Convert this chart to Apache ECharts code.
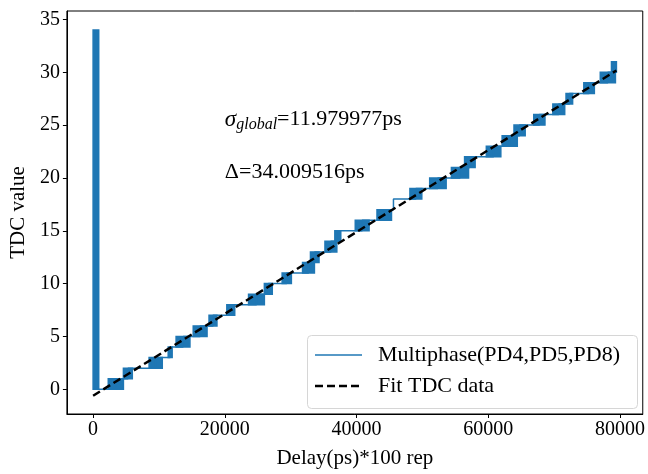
<!DOCTYPE html>
<html><head><meta charset="utf-8">
<script src="https://cdn.jsdelivr.net/npm/echarts@6/dist/echarts.min.js"></script>
<style>html,body{margin:0;padding:0;background:#fff}#c{width:648px;height:474px}</style>
</head><body><div id="c"></div>
<script>
// ---- data ----
const xTicks = [0, 20000, 40000, 60000, 80000];
const yTicks = [0, 5, 10, 15, 20, 25, 30, 35];
// thin staircase: x where each TDC level begins
const stepX = [0, 3450, 5300, 9500, 11700, 13650, 16250, 18200, 20900, 24800, 26600, 29400, 32700, 33650, 36100, 37150, 40850, 44200, 45600, 49000, 52350, 55700, 57200, 60800, 63250, 64750, 67750, 70700, 72300, 75300, 78150, 79075, 79450];
const stepY = [0, 1, 2, 3, 4, 5, 6, 7, 8, 9, 10, 11, 12, 13, 14, 15, 16, 17, 18, 19, 20, 21, 22, 23, 24, 25, 26, 27, 28, 29, 30, 31, 31];
// dense toggling regions (x from, x to, low level, high level)
const bandX0 = [0, 2300, 4600, 8500, 11400, 12600, 15200, 17600, 20300, 23600, 26000, 28700, 31800, 33000, 35200, 36700, 39800, 43100, 48100, 51100, 54400, 56400, 59700, 62100, 63900, 66900, 69800, 71800, 74500, 77000, 78700];
const bandX1 = [850, 4600, 5950, 10500, 12000, 14700, 17300, 18800, 21500, 26000, 27200, 30100, 33600, 34300, 37000, 37600, 41900, 45300, 49900, 53600, 57000, 58000, 61900, 64400, 65600, 68600, 71600, 72800, 76100, 79300, 79450];
const bandY0 = [0, 0, 1, 2, 3, 4, 5, 6, 7, 8, 9, 10, 11, 12, 13, 14, 15, 16, 18, 19, 20, 21, 22, 23, 24, 25, 26, 27, 28, 29, 30];
const bandY1 = [34.0, 1, 2, 3, 4, 5, 6, 7, 8, 9, 10, 11, 12, 13, 14, 15, 16, 17, 19, 20, 21, 22, 23, 24, 25, 26, 27, 28, 29, 30, 31];
const fitX = [0, 79450];
const fitY = [-0.61, 30.17];
const lineName = 'Multiphase(PD4,PD5,PD8)';
const fitName = 'Fit TDC data';
const annX = [20000, 20000];
const annY = [25, 20];

const BLUE = '#1f77b4';
const FONT = '"Liberation Serif", "DejaVu Serif", serif';

const stepData = stepX.map((x, i) => [x, stepY[i]]);
const bandData = bandX0.map((x, i) => [x, bandX1[i], bandY0[i], bandY1[i]]);
const fitData = fitX.map((x, i) => [x, fitY[i]]);

const chart = echarts.init(document.getElementById('c'), null, {renderer: 'canvas'});
const option = {
  animation: false,
  backgroundColor: '#fff',
  grid: {left: 66, right: 3, top: 11, bottom: 56, show: true, borderColor: '#000', borderWidth: 1, backgroundColor: 'transparent'},
  xAxis: {
    type: 'value', min: -3980, max: 83450,
    name: 'Delay(ps)*100 rep', nameLocation: 'middle', nameGap: 34,
    nameTextStyle: {fontFamily: FONT, fontSize: 21, color: '#000'},
    axisLine: {show: true, onZero: false, lineStyle: {color: '#000', width: 1}},
    axisTick: {show: true, length: 4, lineStyle: {color: '#000'}, customValues: xTicks},
    axisLabel: {fontFamily: FONT, fontSize: 20, color: '#000', margin: 6, customValues: xTicks, formatter: v => String(v)},
    splitLine: {show: false}
  },
  yAxis: {
    type: 'value', min: -2.34, max: 35.8,
    name: 'TDC value', nameLocation: 'middle', nameGap: 36,
    nameTextStyle: {fontFamily: FONT, fontSize: 21, color: '#000'},
    axisLine: {show: true, onZero: false, lineStyle: {color: '#000', width: 1}},
    axisTick: {show: true, length: 4, lineStyle: {color: '#000'}, customValues: yTicks},
    axisLabel: {fontFamily: FONT, fontSize: 20, color: '#000', margin: 7, customValues: yTicks, formatter: v => String(v)},
    splitLine: {show: false}
  },
  series: [
    {
      name: 'bands', type: 'custom', clip: true, z: 2,
      encode: {x: [0, 1], y: [2, 3]},
      data: bandData,
      renderItem: function (params, api) {
        const p0 = api.coord([api.value(0), api.value(3)]);
        const p1 = api.coord([api.value(1), api.value(2)]);
        return {type: 'rect', shape: {x: p0[0], y: p0[1], width: p1[0] - p0[0], height: p1[1] - p0[1]},
          style: {fill: BLUE, stroke: BLUE, lineWidth: 1.5}};
      }
    },
    {
      name: lineName, type: 'line', step: 'end', z: 3,
      data: stepData, showSymbol: false, symbol: 'none',
      lineStyle: {color: BLUE, width: 1.5}, itemStyle: {color: BLUE}
    },
    {
      name: fitName, type: 'line', z: 4,
      data: fitData, showSymbol: false, symbol: 'none',
      lineStyle: {color: '#000', width: 2.5, type: [8, 4]}, itemStyle: {color: '#000'}
    }
  ]
};
chart.setOption(option);

const a0 = chart.convertToPixel({gridIndex: 0}, [annX[0], annY[0]]);
const a1 = chart.convertToPixel({gridIndex: 0}, [annX[1], annY[1]]);
chart.setOption({
  graphic: [
    // legend box
    {type: 'rect', z: 5, shape: {x: 307.5, y: 335.5, width: 330, height: 73, r: 4},
      style: {fill: 'rgba(255,255,255,0.8)', stroke: '#d6d6d6', lineWidth: 1}},
    {type: 'line', z: 6, shape: {x1: 315, y1: 355, x2: 362, y2: 355}, style: {stroke: BLUE, lineWidth: 1.5}},
    {type: 'text', z: 6, x: 378, y: 355, style: {text: lineName, fontFamily: FONT, fontSize: 22, fill: '#000', verticalAlign: 'middle', align: 'left'}},
    {type: 'line', z: 6, shape: {x1: 315, y1: 386, x2: 362, y2: 386}, style: {stroke: '#000', lineWidth: 2.5, lineDash: [8, 4]}},
    {type: 'text', z: 6, x: 378, y: 386, style: {text: fitName, fontFamily: FONT, fontSize: 22, fill: '#000', verticalAlign: 'middle', align: 'left'}},
    // annotations
    {type: 'text', z: 6, x: a0[0], y: a0[1] + 8,
      style: {
        text: '{s|σ}{g|global}{n|=11.979977ps}', verticalAlign: 'bottom', align: 'left',
        rich: {
          s: {fontFamily: FONT, fontSize: 23, fontStyle: 'italic', fill: '#000', lineHeight: 27},
          g: {fontFamily: FONT, fontSize: 16, fontStyle: 'italic', fill: '#000', lineHeight: 16, verticalAlign: 'bottom'},
          n: {fontFamily: FONT, fontSize: 22, fill: '#000', lineHeight: 27}
        }
      }},
    {type: 'text', z: 6, x: a1[0], y: a1[1] + 8,
      style: {text: 'Δ=34.009516ps', fontFamily: FONT, fontSize: 22, fill: '#000', verticalAlign: 'bottom', align: 'left', lineHeight: 27}}
  ]
});
</script>
</body></html>
